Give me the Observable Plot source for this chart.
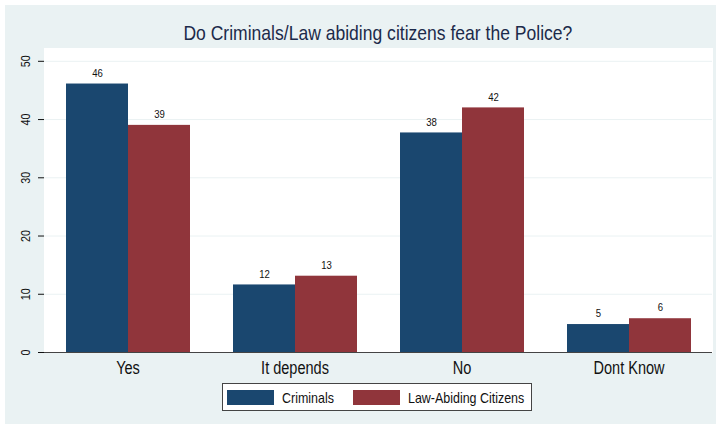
<!DOCTYPE html>
<html>
<head>
<meta charset="utf-8">
<script src="https://cdn.jsdelivr.net/npm/d3@7"></script>
<script src="https://cdn.jsdelivr.net/npm/@observablehq/plot@0.6"></script>
<style>
  html, body { margin: 0; padding: 0; background: #ffffff; }
  body { width: 719px; height: 428px; position: relative; overflow: hidden;
         font-family: "Liberation Sans", Arial, sans-serif; }
  #panel { position: absolute; left: 5px; top: 5px; width: 711px; height: 419px; background: #eaf2f3; }
  #title { position: absolute; left: 43px; top: 22px; width: 669px; text-align: center;
           font-size: 21px; line-height: 21px; color: #1c2a4a; white-space: nowrap; }
  #title span { display: inline-block; transform: scaleX(0.835); transform-origin: center; }
  #chart { position: absolute; left: 0; top: 48px; }
  #legend { position: absolute; left: 222px; top: 383px; width: 308px; height: 26px;
            border: 1px solid #444; background: #ffffff; display: flex; align-items: center;
            font-size: 15px; color: #111; white-space: nowrap; }
  .sw { flex: none; width: 47px; height: 15px; }
  .lab { display: inline-block; transform: scaleX(0.83); transform-origin: left center; }
  svg [aria-label="y-axis tick label"] text { font-size: 13px; }
  svg [aria-label="fx-axis tick label"] text { font-size: 17.5px; }
</style>
</head>
<body>
<div id="panel"></div>
<div id="title"><span></span></div>
<div id="chart"></div>
<div id="legend"></div>
<script>
const title = "Do Criminals/Law abiding citizens fear the Police?";
const categories = ["Yes", "It depends", "No", "Dont Know"];
const series = ["Criminals", "Law-Abiding Citizens"];
const criminals = [46.1, 11.6, 37.7, 4.8];
const lawAbiding = [39.0, 13.1, 42.0, 5.8];
const yTicks = [0, 10, 20, 30, 40, 50];
const colors = ["#1a476f", "#90353b"];
const squeeze = 0.83;

const data = categories.flatMap((c, i) => [
  {category: c, series: series[0], value: criminals[i]},
  {category: c, series: series[1], value: lawAbiding[i]}
]);

document.querySelector("#title span").textContent = title;

const chart = Plot.plot({
  width: 719,
  height: 330,
  marginTop: 0,
  marginBottom: 26,
  marginLeft: 43,
  marginRight: 7,
  style: {background: "transparent", color: "#111", fontFamily: "'Liberation Sans', Arial, sans-serif", overflow: "visible"},
  facet: {data, x: "category"},
  fx: {domain: categories, padding: 0, axis: "bottom", label: null, tickSize: 0, tickPadding: 9},
  x: {domain: series, axis: null, paddingInner: 0, paddingOuter: 0.338},
  y: {domain: [0, 52.2], ticks: yTicks, tickSize: 6, tickRotate: -90, line: true, label: null, tickPadding: 9},
  color: {domain: series, range: colors},
  marks: [
    Plot.frame({fill: "white", stroke: "white"}),
    Plot.gridY(yTicks, {stroke: "#eaf2f3", strokeOpacity: 1}),
    Plot.barY(data, {x: "series", y: "value", fill: "series"}),
    Plot.text(data, {x: "series", y: "value", text: d => Math.round(d.value), dy: -11, fontSize: 11.5, fill: "#111"}),
    Plot.ruleY([0], {stroke: "#444"})
  ]
});
document.getElementById("chart").appendChild(chart);

// condense glyphs horizontally (reference uses a narrow face)
chart.querySelectorAll("text").forEach(t => {
  const w = t.getComputedTextLength();
  if (w > 0) {
    t.setAttribute("textLength", (w * squeeze).toFixed(2));
    t.setAttribute("lengthAdjust", "spacingAndGlyphs");
  }
});

const legend = document.getElementById("legend");
series.forEach((s, i) => {
  const sw = document.createElement("div");
  sw.className = "sw";
  sw.style.background = colors[i];
  sw.style.marginLeft = i === 0 ? "4px" : "19px";
  const label = document.createElement("span");
  label.className = "lab";
  label.textContent = s;
  label.style.marginLeft = "8px";
  legend.appendChild(sw);
  legend.appendChild(label);
  const w = label.getBoundingClientRect().width / squeeze;
  label.style.marginRight = (-(1 - squeeze) * w).toFixed(2) + "px";
});
</script>
</body>
</html>
